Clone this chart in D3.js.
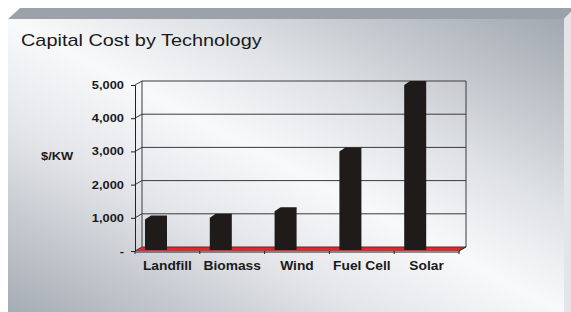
<!DOCTYPE html>
<html>
<head>
    <title>Capital Cost by Technology</title>
    <script src="https://cdn.jsdelivr.net/npm/d3@7"></script>
</head>
<style>
body { margin: 0; background: #fff; }
svg text { font-family: Arial, "Liberation Sans", sans-serif; fill: #1a1a1a; }
</style>
<body>
<script>

var categories = ["Landfill", "Biomass", "Wind", "Fuel Cell", "Solar"];
var costs = [950, 1000, 1200, 3000, 5000];
var yTicks = [0, 1000, 2000, 3000, 4000, 5000];
var yTickLabels = ["-", "1,000", "2,000", "3,000", "4,000", "5,000"];

var w = 571;
var h = 312;
var sx = 1.17;          // slide is stretched sideways, text too
var depth = [7, -4];    // 3d offset from front plane to back wall

var svg = d3.select("body").append("svg")
    .attr("width", w)
    .attr("height", h);

var defs = svg.append("defs");
var grad = defs.append("linearGradient")
    .attr("id", "bg")
    .attr("gradientUnits", "userSpaceOnUse")
    .attr("x1", 407).attr("y1", -64)
    .attr("x2", 165).attr("y2", 395);
[[0, "#a2a8b0"], [0.33, "#dfe2e6"], [0.5, "#f8f9fa"], [0.68, "#e3e5e9"], [1, "#a6acb4"]].forEach(function(s) {
    grad.append("stop").attr("offset", s[0]).attr("stop-color", s[1]);
});

// slide frame
svg.append("rect")
    .attr("x", 8).attr("y", 19)
    .attr("width", 556).attr("height", h - 19)
    .attr("fill", "url(#bg)");
svg.append("polygon")
    .attr("points", "20,8 571,8 571,12 564,19 8,19")
    .attr("fill", "#9ca2a9");
svg.append("polygon")
    .attr("points", "564,19 571,12 571,312 564,312")
    .attr("fill", "#e3e5e9");

// title
svg.append("text")
    .attr("transform", "translate(21,46) scale(" + sx + ",1)")
    .attr("font-size", "17px")
    .text("Capital Cost by Technology");

var xScale = d3.scaleBand()
    .domain(categories)
    .range([135, 459]);
var yScale = d3.scaleLinear()
    .domain([0, 5000])
    .range([251, 85]);

var x0 = xScale.range()[0], x1 = xScale.range()[1];
var y0 = yScale(0);
var dx = depth[0], dy = depth[1];

// floor
svg.append("polygon")
    .attr("points", [[x0, y0], [x0 + dx, y0 + dy], [x1 + dx, y0 + dy], [x1, y0]].join(" "))
    .attr("fill", "#e5252a");

// back wall and left wall grid
var grid = svg.append("g")
    .attr("stroke", "#3a3a3a")
    .attr("stroke-width", 1)
    .attr("fill", "none");
yTicks.forEach(function(t) {
    var yf = yScale(t);
    grid.append("path")
        .attr("d", "M" + x0 + "," + yf + "L" + (x0 + dx) + "," + (yf + dy) + "L" + (x1 + dx) + "," + (yf + dy));
});
grid.append("line")
    .attr("x1", x0 + dx).attr("x2", x0 + dx)
    .attr("y1", yScale(5000) + dy).attr("y2", y0 + dy);
grid.append("line")
    .attr("x1", x1 + dx).attr("x2", x1 + dx)
    .attr("y1", yScale(5000) + dy).attr("y2", y0 + dy);

// bars
var barOff = 10, barW = 22;
svg.selectAll("polygon.bar")
    .data(costs)
    .enter()
    .append("polygon")
    .attr("class", "bar")
    .attr("fill", "#1f1b1b")
    .attr("points", function(d, i) {
        var bx = xScale(categories[i]) + barOff;
        var top = yScale(d) + dy;
        return [[bx, y0 - 1], [bx, top + 4], [bx + 6, top], [bx + barW, top], [bx + barW, y0 - 1]].join(" ");
    });

// axes
var yAxis = d3.axisLeft(yScale)
    .tickValues(yTicks)
    .tickSize(4)
    .tickFormat("");
svg.append("g")
    .attr("transform", "translate(" + x0 + ",0)")
    .call(yAxis)
    .call(function(g) {
        g.select(".domain").attr("stroke", "#222");
        g.selectAll(".tick line").attr("stroke", "#222");
    });

var xAxis = d3.axisBottom(xScale)
    .tickSize(0)
    .tickFormat("");
svg.append("g")
    .attr("transform", "translate(0," + (y0 + 0.5) + ")")
    .call(xAxis)
    .call(function(g) {
        g.select(".domain").attr("stroke", "#222");
    });
// category separators on the floor edge
svg.selectAll("line.xt")
    .data(categories.concat(["end"]))
    .enter()
    .append("line")
    .attr("class", "xt")
    .attr("x1", function(d, i) { return x0 + i * xScale.bandwidth(); })
    .attr("x2", function(d, i) { return x0 + i * xScale.bandwidth(); })
    .attr("y1", y0)
    .attr("y2", y0 + 3)
    .attr("stroke", "#222");
svg.append("line")
    .attr("x1", x1).attr("y1", y0)
    .attr("x2", x1 + dx).attr("y2", y0 + dy)
    .attr("stroke", "#222");

// y tick labels
svg.selectAll("text.ylab")
    .data(yTicks)
    .enter()
    .append("text")
    .attr("class", "ylab")
    .attr("transform", function(d) {
        return "translate(124," + (yScale(d) + 4) + ") scale(" + sx + ",1)";
    })
    .attr("text-anchor", "end")
    .attr("font-size", "11px")
    .attr("font-weight", "bold")
    .text(function(d, i) { return yTickLabels[i]; });

// x labels
svg.selectAll("text.xlab")
    .data(categories)
    .enter()
    .append("text")
    .attr("class", "xlab")
    .attr("transform", function(d) {
        return "translate(" + (xScale(d) + xScale.bandwidth() / 2) + ",269.5) scale(1.15,1)";
    })
    .attr("text-anchor", "middle")
    .attr("font-size", "12px")
    .attr("font-weight", "bold")
    .text(function(d) { return d; });

// axis title
svg.append("text")
    .attr("transform", "translate(41,160) scale(" + sx + ",1)")
    .attr("font-size", "11px")
    .attr("font-weight", "bold")
    .text("$/KW");

</script>
</body>
</html>
